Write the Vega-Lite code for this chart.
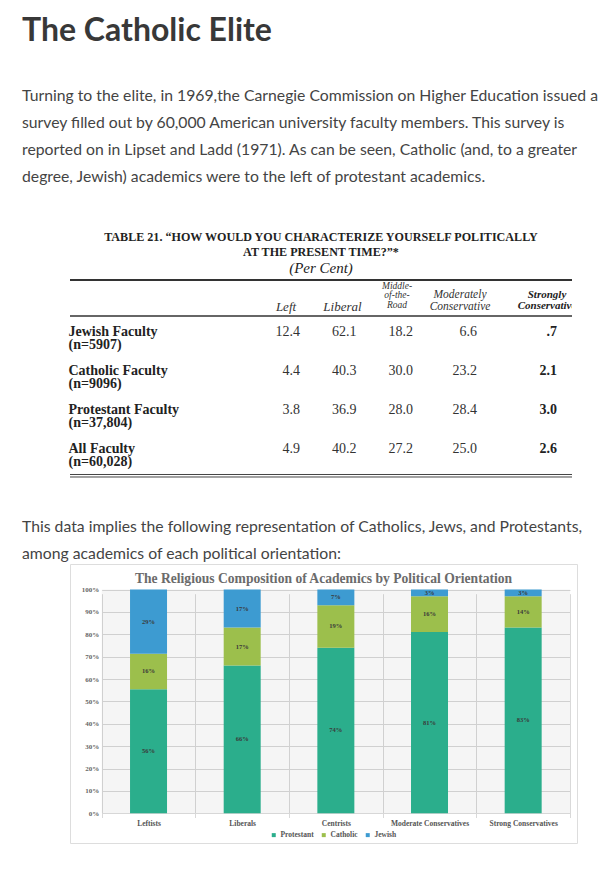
{
  "$schema": "https://vega.github.io/schema/vega-lite/v6.json",
  "background": "white",
  "padding": {"left": 22, "top": 15, "right": 0, "bottom": 0},
  "spacing": 40,
  "resolve": {"scale": {"color": "independent"}, "legend": {"color": "independent"}},
  "title": {
    "text": "The Catholic Elite",
    "subtitle": [
      "Turning to the elite, in 1969,the Carnegie Commission on Higher Education issued a",
      "survey filled out by 60,000 American university faculty members. This survey is",
      "reported on in Lipset and Ladd (1971). As can be seen, Catholic (and, to a greater",
      "degree, Jewish) academics were to the left of protestant academics."
    ],
    "anchor": "start",
    "frame": "group",
    "dx": -48,
    "offset": 45,
    "font": "Lato",
    "fontSize": 32,
    "fontWeight": "bold",
    "color": "#383838",
    "subtitleFont": "Lato",
    "subtitleFontSize": 15.75,
    "subtitleColor": "#444444",
    "subtitleLineHeight": 27,
    "subtitlePadding": 41
  },
  "datasets": {
    "table": [
      {"faculty": "Jewish Faculty (n=5907)", "Left": "12.4", "Liberal": "62.1", "Middle": "18.2", "Moderately": "6.6", "Strongly": ".7"},
      {"faculty": "Catholic Faculty (n=9096)", "Left": "4.4", "Liberal": "40.3", "Middle": "30.0", "Moderately": "23.2", "Strongly": "2.1"},
      {"faculty": "Protestant Faculty (n=37,804)", "Left": "3.8", "Liberal": "36.9", "Middle": "28.0", "Moderately": "28.4", "Strongly": "3.0"},
      {"faculty": "All Faculty (n=60,028)", "Left": "4.9", "Liberal": "40.2", "Middle": "27.2", "Moderately": "25.0", "Strongly": "2.6"}
    ],
    "headers": [
      {"col": "Left", "header": "Left"},
      {"col": "Liberal", "header": "Liberal"},
      {"col": "Middle", "header": "Middle-\nof-the-\nRoad"},
      {"col": "Moderately", "header": "Moderately\nConservative"},
      {"col": "Strongly", "header": "Strongly\nConservative"}
    ],
    "shares": [
      {"orientation": "Leftists", "religion": "Protestant", "share": 0.56},
      {"orientation": "Leftists", "religion": "Catholic", "share": 0.16},
      {"orientation": "Leftists", "religion": "Jewish", "share": 0.29},
      {"orientation": "Liberals", "religion": "Protestant", "share": 0.66},
      {"orientation": "Liberals", "religion": "Catholic", "share": 0.17},
      {"orientation": "Liberals", "religion": "Jewish", "share": 0.17},
      {"orientation": "Centrists", "religion": "Protestant", "share": 0.74},
      {"orientation": "Centrists", "religion": "Catholic", "share": 0.19},
      {"orientation": "Centrists", "religion": "Jewish", "share": 0.07},
      {"orientation": "Moderate Conservatives", "religion": "Protestant", "share": 0.81},
      {"orientation": "Moderate Conservatives", "religion": "Catholic", "share": 0.16},
      {"orientation": "Moderate Conservatives", "religion": "Jewish", "share": 0.03},
      {"orientation": "Strong Conservatives", "religion": "Protestant", "share": 0.83},
      {"orientation": "Strong Conservatives", "religion": "Catholic", "share": 0.14},
      {"orientation": "Strong Conservatives", "religion": "Jewish", "share": 0.03}
    ]
  },
  "vconcat": [
    {
      "width": 502,
      "height": 197,
      "view": {"stroke": null},
      "title": {
        "text": ["TABLE 21. \u201cHOW WOULD YOU CHARACTERIZE YOURSELF POLITICALLY", "AT THE PRESENT TIME?\u201d*"],
        "subtitle": "(Per Cent)",
        "anchor": "middle",
        "frame": "group",
        "offset": 3,
        "font": "Liberation Serif",
        "fontSize": 12.1,
        "fontWeight": "bold",
        "color": "#222222",
        "lineHeight": 15,
        "subtitleFont": "Liberation Serif",
        "subtitleFontSize": 15,
        "subtitleFontStyle": "italic",
        "subtitleColor": "#222222",
        "subtitlePadding": 3
      },
      "resolve": {"scale": {"x": "independent"}},
      "layer": [
        {
          "data": {"values": [{}]},
          "mark": {"type": "rule", "color": "#333333", "strokeWidth": 2},
          "encoding": {"y": {"datum": "Jewish Faculty (n=5907)", "type": "nominal", "bandPosition": -0.92}}
        },
        {
          "data": {"values": [{}]},
          "mark": {"type": "rule", "color": "#333333", "strokeWidth": 1.5},
          "encoding": {"y": {"datum": "Jewish Faculty (n=5907)", "type": "nominal", "bandPosition": 0}}
        },
        {
          "data": {"values": [{}]},
          "mark": {"type": "rule", "color": "#444444", "strokeWidth": 1},
          "encoding": {"y": {"datum": "All Faculty (n=60,028)", "type": "nominal", "bandPosition": 1.064}}
        },
        {
          "data": {"values": [{}]},
          "mark": {"type": "rule", "color": "#444444", "strokeWidth": 1},
          "encoding": {"y": {"datum": "All Faculty (n=60,028)", "type": "nominal", "bandPosition": 1.128}}
        },
        {
          "layer": [
            {
              "data": {"name": "table"},
              "transform": [
                {"fold": ["Left", "Liberal", "Middle", "Moderately", "Strongly"], "as": ["col", "val"]},
                {"filter": {"field": "col", "oneOf": ["Left", "Liberal", "Middle"]}}
              ],
              "mark": {"type": "text", "align": "right", "baseline": "alphabetic", "font": "Liberation Serif", "fontSize": 14, "color": "#333333"},
              "encoding": {
                "x": {"field": "col", "type": "nominal", "scale": {"type": "point", "domain": ["Left", "Liberal", "Middle"], "range": [230, 343], "padding": 0}, "axis": null},
                "y": {
                  "field": "faculty", "type": "nominal",
                  "scale": {"type": "band", "domain": ["Jewish Faculty (n=5907)", "Catholic Faculty (n=9096)", "Protestant Faculty (n=37,804)", "All Faculty (n=60,028)"], "range": [36, 192], "paddingInner": 0, "paddingOuter": 0},
                  "axis": {
                    "title": null, "domain": false, "ticks": false, "tickSize": 0, "grid": false,
                    "labelAlign": "left", "labelBaseline": "alphabetic", "labelPadding": 2,
                    "labelFont": "Liberation Serif", "labelFontSize": 14, "labelFontWeight": "bold", "labelColor": "#222222",
                    "labelLineHeight": 13.5, "labelLimit": 300,
                    "labelExpr": "[split(datum.label, ' (')[0], '(' + split(datum.label, ' (')[1]]"
                  }
                },
                "text": {"field": "val", "type": "nominal"}
              }
            },
            {
              "data": {"name": "headers"},
              "transform": [{"filter": {"field": "col", "oneOf": ["Left", "Liberal"]}}],
              "mark": {"type": "text", "align": "center", "baseline": "alphabetic", "dx": -14, "font": "Liberation Serif", "fontStyle": "italic", "fontSize": 13, "color": "#333333"},
              "encoding": {
                "x": {"field": "col", "type": "nominal", "axis": null},
                "y": {"datum": "Jewish Faculty (n=5907)", "type": "nominal", "bandPosition": -0.12},
                "text": {"field": "header", "type": "nominal"}
              }
            },
            {
              "data": {"name": "headers"},
              "transform": [{"filter": {"field": "col", "equal": "Middle"}}],
              "mark": {"type": "text", "align": "center", "baseline": "alphabetic", "dx": -16, "font": "Liberation Serif", "fontStyle": "italic", "fontSize": 9.5, "lineHeight": 9.5, "lineBreak": "\n", "color": "#333333"},
              "encoding": {
                "x": {"field": "col", "type": "nominal", "axis": null},
                "y": {"datum": "Jewish Faculty (n=5907)", "type": "nominal", "bandPosition": -0.7},
                "text": {"field": "header", "type": "nominal"}
              }
            }
          ]
        },
        {
          "layer": [
            {
              "data": {"name": "table"},
              "transform": [
                {"fold": ["Left", "Liberal", "Middle", "Moderately", "Strongly"], "as": ["col", "val"]},
                {"filter": {"field": "col", "equal": "Moderately"}}
              ],
              "mark": {"type": "text", "align": "right", "baseline": "alphabetic", "font": "Liberation Serif", "fontSize": 14, "color": "#333333"},
              "encoding": {
                "x": {"field": "col", "type": "nominal", "scale": {"type": "point", "domain": ["Moderately", "Strongly"], "range": [407, 487], "padding": 0}, "axis": null},
                "y": {"field": "faculty", "type": "nominal"},
                "text": {"field": "val", "type": "nominal"}
              }
            },
            {
              "data": {"name": "table"},
              "transform": [
                {"fold": ["Left", "Liberal", "Middle", "Moderately", "Strongly"], "as": ["col", "val"]},
                {"filter": {"field": "col", "equal": "Strongly"}}
              ],
              "mark": {"type": "text", "align": "right", "baseline": "alphabetic", "font": "Liberation Serif", "fontSize": 14, "fontWeight": "bold", "color": "#222222"},
              "encoding": {
                "x": {"field": "col", "type": "nominal", "axis": null},
                "y": {"field": "faculty", "type": "nominal"},
                "text": {"field": "val", "type": "nominal"}
              }
            },
            {
              "data": {"name": "headers"},
              "transform": [{"filter": {"field": "col", "equal": "Moderately"}}],
              "mark": {"type": "text", "align": "center", "baseline": "alphabetic", "dx": -17, "font": "Liberation Serif", "fontStyle": "italic", "fontSize": 11.5, "lineHeight": 11.5, "lineBreak": "\n", "color": "#333333"},
              "encoding": {
                "x": {"field": "col", "type": "nominal", "axis": null},
                "y": {"datum": "Jewish Faculty (n=5907)", "type": "nominal", "bandPosition": -0.46},
                "text": {"field": "header", "type": "nominal"}
              }
            },
            {
              "data": {"name": "headers"},
              "transform": [{"filter": {"field": "col", "equal": "Strongly"}}],
              "mark": {"type": "text", "align": "center", "baseline": "alphabetic", "dx": -10, "clip": true, "font": "Liberation Serif", "fontStyle": "italic", "fontWeight": "bold", "fontSize": 11, "lineHeight": 11, "lineBreak": "\n", "color": "#222222"},
              "encoding": {
                "x": {"field": "col", "type": "nominal", "axis": null},
                "y": {"datum": "Jewish Faculty (n=5907)", "type": "nominal", "bandPosition": -0.46},
                "text": {"field": "header", "type": "nominal"}
              }
            }
          ]
        }
      ]
    },
    {
      "title": {
        "text": [
          "This data implies the following representation of Catholics, Jews, and Protestants,",
          "among academics of each political orientation:"
        ],
        "anchor": "start",
        "frame": "group",
        "dx": -48,
        "offset": 1,
        "font": "Lato",
        "fontSize": 15.75,
        "fontWeight": "normal",
        "color": "#444444",
        "lineHeight": 27
      },
      "resolve": {"scale": {"color": "independent"}, "legend": {"color": "independent"}},
      "vconcat": [
        {
          "width": 507,
          "height": 279,
          "view": {"stroke": "#dddddd", "strokeWidth": 1, "fill": "white"},
          "title": {
            "text": "The Religious Composition of Academics by Political Orientation",
            "anchor": "middle",
            "frame": "group",
            "offset": -22,
            "font": "Liberation Serif",
            "fontSize": 13.6,
            "fontWeight": "bold",
            "color": "#6b6b6b"
          },
          "data": {"name": "shares"},
          "transform": [{"window": [{"op": "row_number", "as": "k"}], "groupby": ["orientation"]}],
          "encoding": {
            "x": {
              "field": "orientation", "type": "nominal",
              "scale": {"type": "band", "domain": ["Leftists", "Liberals", "Centrists", "Moderate Conservatives", "Strong Conservatives"], "range": [31.7, 500], "paddingInner": 0, "paddingOuter": 0},
              "axis": {
                "orient": "bottom", "offset": -29.7, "title": null, "domain": false, "ticks": false,
                "grid": true, "gridColor": "#d9d9d9", "tickBand": "extent", "labelAngle": 0,
                "labelFont": "Liberation Serif", "labelFontSize": 7.5, "labelFontWeight": "bold", "labelColor": "#555555", "labelPadding": 6
              }
            },
            "y": {
              "field": "share", "type": "quantitative", "stack": "normalize",
              "scale": {"domain": [0, 1], "range": [249.3, 25.5], "nice": false},
              "axis": {
                "orient": "left", "offset": -31.7, "title": null, "domain": false, "ticks": true, "tickSize": 0, "tickColor": "transparent",
                "grid": true, "gridColor": "#d9d9d9", "tickCount": 11, "tickMinStep": 0.1,
                "labelOverlap": false, "labelSeparation": 0,
                "format": ".0%", "labelFont": "Liberation Serif", "labelFontSize": 7, "labelFontWeight": "bold",
                "labelColor": "#666666", "labelPadding": 3
              }
            }
          },
          "layer": [
            {
              "transform": [{"filter": {"field": "religion", "equal": "Protestant"}}],
              "mark": {"type": "bar", "color": "#000000", "opacity": 0.04},
              "encoding": {
                "y": {"datum": 0, "type": "quantitative"},
                "y2": {"datum": 1}
              }
            },
            {
              "mark": {"type": "bar", "width": {"band": 0.395}},
              "encoding": {
                "color": {
                  "field": "religion", "type": "nominal",
                  "scale": {"domain": ["Protestant", "Catholic", "Jewish"], "range": ["#2bae8c", "#9cbf4c", "#3d9bd1"]},
                  "legend": {
                    "orient": "none", "legendX": 200, "legendY": 267, "direction": "horizontal", "title": null,
                    "symbolType": "square", "symbolSize": 16, "symbolStrokeWidth": 0,
                    "labelFont": "Liberation Serif", "labelFontSize": 7.5, "labelFontWeight": "bold", "labelColor": "#555555",
                    "labelOffset": 3, "columnPadding": 6
                  }
                },
                "order": {"field": "k", "type": "quantitative"}
              }
            },
            {
              "mark": {"type": "text", "font": "Liberation Serif", "fontSize": 6.5, "fontWeight": "bold", "color": "#3a3a3a", "baseline": "middle"},
              "encoding": {
                "y": {"field": "share", "type": "quantitative", "stack": "normalize", "bandPosition": 0.5},
                "detail": {"field": "religion", "type": "nominal"},
                "order": {"field": "k", "type": "quantitative"},
                "text": {"field": "share", "type": "quantitative", "format": ".0%"}
              }
            }
          ]
        }
      ]
    }
  ],
  "config": {
    "view": {"stroke": null},
    "axis": {"labelOverlap": false},
    "axisQuantitative": {"tickCount": 11, "labelOverlap": false}
  }
}
